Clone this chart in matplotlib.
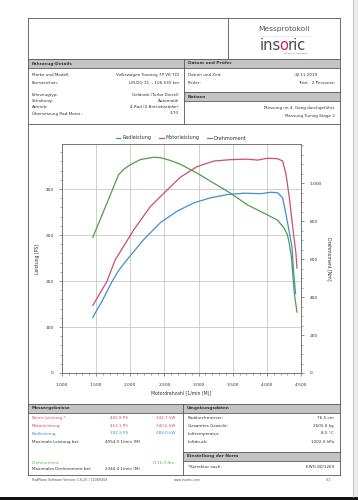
import matplotlib
matplotlib.use("Agg")
import matplotlib.pyplot as plt
from matplotlib.lines import Line2D
from matplotlib.patches import Rectangle
from matplotlib.ticker import MultipleLocator, FuncFormatter

# ---------------- data ----------------
rpm_rad = [1451, 1600, 1730, 1830, 1950, 2196, 2441, 2687, 2931, 3176, 3422, 3666,
           3912, 4059, 4157, 4231, 4260, 4313, 4368, 4393, 4420]
rad_ps = [121, 160, 198, 223, 246, 290, 327, 352, 370, 381, 388, 391,
          390, 393, 392, 381, 360, 319, 275, 217, 173]

rpm_motor = [1451, 1657, 1779, 2049, 2294, 2539, 2735, 2980, 3225, 3471, 3716, 3863,
             4010, 4157, 4231, 4279, 4328, 4378, 4426, 4441]
motor_ps = [147, 199, 246, 311, 362, 398, 426, 449, 461, 464, 465, 463,
            467, 466, 461, 433, 383, 318, 260, 228]

rpm_torque = [1451, 1657, 1828, 1900, 2000, 2147, 2343, 2441, 2588, 2735, 2980, 3225,
              3471, 3716, 3960, 4157, 4254, 4300, 4328, 4360, 4402, 4441]
torque_nm = [715, 894, 1045, 1072, 1098, 1125, 1137, 1135, 1120, 1100, 1053, 1000,
             947, 886, 842, 806, 763, 730, 684, 610, 420, 321]

legend_labels = ["Radleistung", "Motorleistung", "Drehmoment"]
x_ticks = [1000, 1500, 2000, 2500, 3000, 3500, 4000, 4500]
ps_ticks = [0, 100, 200, 300, 400]
nm_ticks = [0, 200, 400, 600, 800, 1000]

C_BLUE = "#3d8fd6"
C_RED = "#cf4d6a"
C_GREEN = "#4e9e48"
C_TXT = "#333333"

W, H = 358, 500
fig = plt.figure(figsize=(W / 100, H / 100), dpi=100)
fig.patch.set_facecolor("white")


def fx(x):
    return x / W


def fy(y):
    return 1 - y / H


def T(x, y, s, size=3.0, color=C_TXT, ha="left", va="center", **kw):
    fig.text(fx(x), fy(y), s, fontsize=size, color=color, ha=ha, va=va,
             family="DejaVu Sans", **kw)


def line(x0, y0, x1, y1, color="#555555", lw=0.6):
    fig.add_artist(Line2D([fx(x0), fx(x1)], [fy(y0), fy(y1)],
                          transform=fig.transFigure, color=color, lw=lw))


def rect(x0, y0, x1, y1, fc, ec="none", lw=0.5):
    fig.add_artist(Rectangle((fx(x0), fy(y1)), fx(x1) - fx(x0), fy(y0) - fy(y1),
                             transform=fig.transFigure, facecolor=fc,
                             edgecolor=ec, lw=lw))


# right scrollbar strip and bottom black band
rect(353, 0, 358, 497, "#ececec")
line(353, 0, 353, 497, color="#bbbbbb", lw=0.6)
rect(0, 497, 358, 500, "#111111")

# page frame
BAR = "#c4c4c4"
rect(28, 59, 340, 68, BAR)
rect(184, 92, 340, 101, BAR)
rect(28, 404, 340, 413, BAR)
rect(183, 452, 340, 461, BAR)
line(28, 18, 340, 18)
line(28, 475, 340, 475)
line(28, 18, 28, 475)
line(340, 18, 340, 475)
line(228, 18, 228, 59)
line(28, 59, 340, 59)
line(28, 68, 340, 68)
line(184, 59, 184, 124)
line(184, 92, 340, 92)
line(184, 101, 340, 101)
line(28, 124, 340, 124)
line(28, 404, 340, 404)
line(28, 413, 340, 413)
line(183, 404, 183, 475)
line(183, 452, 340, 452)
line(183, 461, 340, 461)

# logo
T(284, 29, "Messprotokoll", size=5.4, color="#555555", ha="center")
line(258, 36, 310, 36, color="#dddddd", lw=0.4)
T(280.5, 45, "ins", size=10.5, color="#4a4a4a", ha="right")
T(284, 45, "o", size=10.5, color="#d81f5c", ha="center")
T(287.3, 45, "ric", size=10.5, color="#4a4a4a", ha="left")
T(296, 53, "sensors & measuring", size=1.6, color="#d81f5c", ha="center")

# vehicle details
T(32, 63.5, "Fahrzeug-Details", size=3.1, weight="bold")
T(188, 63.5, "Datum und Prüfer", size=3.1, weight="bold")
left_rows = [("Marke und Modell:", "Volkswagen Touareg 7P V8 TDI", 75),
             ("Kennzeichen:", "LM-DQ 15 -- 106.535 km", 83),
             ("Fahrzeugtyp:", "Gelände (Turbo Diesel)", 95),
             ("Schaltung:", "Automatik", 101),
             ("Antrieb:", "4-Rad (2 Antriebsräder)", 107.5),
             ("Übersetzung Rad:Motor :", "3.70", 113.5)]
for lab, val, y in left_rows:
    T(32, y, lab)
    T(179, y, val, ha="right")
T(188, 75, "Datum und Zeit:")
T(318, 75, "22.11.2019", ha="right")
T(188, 83, "Prüfer:")
T(335, 83, "Trost - 2 Personen", ha="right")
T(188, 96.5, "Notizen", size=3.1, weight="bold")
T(335, 107.7, "Messung im 4. Gang durchgeführt.", ha="right")
T(335, 115.7, "Messung Tuning Stage 2", ha="right")

# results
T(32, 408.5, "Messergebnisse", size=3.1, weight="bold")
T(187, 408.5, "Umgebungsdaten", size=3.1, weight="bold")
T(187, 456.5, "Einstellung der Norm", size=3.1, weight="bold")
res_rows = [("Norm-Leistung *:", "465.9 PS", "342.7 kW", 418.3, C_RED),
            ("Motorleistung:", "463.1 PS", "340.6 kW", 426, C_RED),
            ("Radleistung:", "392.9 PS", "289.0 kW", 433.5, C_BLUE)]
for lab, ps, kw, y, c in res_rows:
    T(32, y, lab, color=c)
    T(128, y, ps, color=c, ha="right")
    T(175, y, kw, color=c, ha="right")
T(32, 441.7, "Maximale Leistung bei:")
T(105, 441.7, "4054.9 1/min (M)")
T(32, 462.7, "Drehmoment:", color="#5cb85c")
T(175, 462.7, "1136.9 Nm", color="#5cb85c", ha="right")
T(32, 469.5, "Maximales Drehmoment bei:")
T(105, 469.5, "2344.4 1/min (M)")
env_rows = [("Raddurchmesser:", "76.5 cm", 418.3),
            ("Gesamtes Gewicht:", "2605.0 kg", 426),
            ("Lufttemperatur:", "8.5 °C", 433.5),
            ("Luftdruck:", "1002.0 hPa", 441.7)]
for lab, val, y in env_rows:
    T(188, y, lab)
    T(334, y, val, ha="right")
T(188, 467.3, "*Korrektur nach:")
T(334, 467.3, "EWG 80/1269", ha="right")

# footer
T(32, 480, "RadPlane Software Version: 1.6.20 / 12089458", size=2.3, color="#555555")
T(187, 480, "www.insoric.com", size=2.3, color="#555555", ha="center")
T(331, 480, "1/1", size=2.3, color="#555555", ha="right")

# ---------------- chart ----------------
L, R, TOP, BOT = 62, 301, 144, 373
ax = fig.add_axes([fx(L), fy(BOT), fx(R) - fx(L), fy(TOP) - fy(BOT)])
ax2 = ax.twinx()

l1, = ax.plot(rpm_rad, rad_ps, color=C_BLUE, lw=0.9)
l2, = ax.plot(rpm_motor, motor_ps, color=C_RED, lw=0.9)
l3, = ax2.plot(rpm_torque, torque_nm, color=C_GREEN, lw=0.9)

ax.set_xlim(1000, 4500)
ax.set_ylim(0, 498)
ax2.set_ylim(0, 1207)


def de_fmt(v, pos):
    s = f"{int(round(v)):,}".replace(",", ".")
    return s


ax.set_xticks(x_ticks)
ax.set_yticks(ps_ticks)
ax2.set_yticks(nm_ticks)
ax.xaxis.set_major_formatter(FuncFormatter(de_fmt))
ax2.yaxis.set_major_formatter(FuncFormatter(de_fmt))
ax.xaxis.set_minor_locator(MultipleLocator(100))
ax.yaxis.set_minor_locator(MultipleLocator(20))
ax2.yaxis.set_minor_locator(MultipleLocator(50))

ax.grid(True, which="major", color="#c8c8c8", lw=0.6)
ax.set_axisbelow(True)
for a in (ax, ax2):
    for sp in a.spines.values():
        sp.set_color("#777777")
        sp.set_linewidth(0.6)
    a.tick_params(which="major", length=2, width=0.5, color="#666666",
                  labelsize=3.2, labelcolor=C_TXT, pad=4)
    a.tick_params(which="minor", length=1.2, width=0.4, color="#666666")
ax.tick_params(axis="x", pad=5)

ax.set_xlabel("Motordrehzahl [1/min (M)]", fontsize=3.3, color=C_TXT, labelpad=3)
ax.set_ylabel("Leistung [PS]", fontsize=3.3, color=C_TXT, labelpad=4)
ax2.set_ylabel("Drehmoment [Nm]", fontsize=3.3, color=C_TXT, rotation=270,
               labelpad=7)

fig.legend([l1, l2, l3], legend_labels, loc="center",
           bbox_to_anchor=(fx(181), fy(138)), ncol=3, frameon=False,
           fontsize=3.5, handlelength=1.0, handletextpad=0.4, columnspacing=1.5,
           labelcolor=C_TXT)

fig.savefig("out.png", dpi=100, facecolor="white")
